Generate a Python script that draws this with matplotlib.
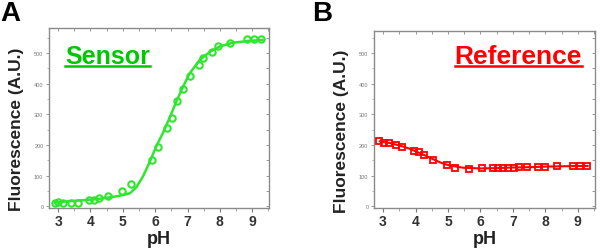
import matplotlib
matplotlib.use("Agg")
import matplotlib.pyplot as plt
from matplotlib.ticker import MultipleLocator

plt.rcParams['font.family'] = ['Liberation Sans', 'DejaVu Sans']

sensor_ph = [2.89, 3.01, 3.16, 3.40, 3.61, 3.96, 4.12, 4.26, 4.53, 4.97, 5.25,
             5.89, 6.08, 6.36, 6.51, 6.66, 6.86, 7.07, 7.34, 7.48, 7.75, 7.95,
             8.31, 8.83, 9.07, 9.26]
sensor_val = [12, 14, 12, 12, 12, 20, 22, 27, 34, 49, 72,
              153, 193, 257, 289, 343, 382, 425, 462, 484, 503, 522,
              534, 546, 546, 546]
sensor_fit_ph = [2.9, 3.3, 3.72, 4.2, 4.74, 5.0, 5.22, 5.42, 5.63, 5.83, 6.04,
                 6.24, 6.45, 6.65, 6.86, 7.06, 7.37, 7.69, 8.0, 8.4, 8.9, 9.32]
sensor_fit_val = [12, 17, 20, 24, 32, 37, 43, 63, 99, 145, 197,
                  240, 290, 341, 390, 433, 477, 504, 522, 534, 540, 543]

# Reference (panel B)
ref_ph = [2.89, 3.04, 3.17, 3.39, 3.58, 3.95, 4.10, 4.26, 4.54, 4.96, 5.23,
          5.66, 6.05, 6.38, 6.53, 6.70, 6.85, 7.02, 7.20, 7.44, 7.77, 8.00,
          8.35, 8.85, 9.07, 9.27]
ref_val = [214, 206, 206, 202, 194, 181, 178, 168, 153, 134, 125,
           123, 125, 124, 124, 125, 127, 127, 128, 129, 130, 130,
           132, 132, 132, 133]
ref_fit_ph = [2.9, 3.2, 3.5, 3.8, 4.0, 4.3, 4.5, 4.8, 5.0, 5.3, 5.5, 6.0,
              6.5, 7.0, 7.5, 8.0, 8.5, 9.0, 9.3]
ref_fit_val = [212, 207, 199, 189, 180, 166, 156, 142, 135, 129, 126, 124,
               125, 127, 128, 130, 131, 132, 132]

green_line = '#2ee62e'
green_text = '#00c800'
red = '#ff0000'

fig = plt.figure(figsize=(6.0, 2.51), dpi=100)
ax_a = fig.add_axes([0.0817, 0.1673, 0.3667, 0.7172])
ax_b = fig.add_axes([0.6233, 0.1673, 0.3678, 0.7052])


def style_axes(ax, ylim):
    ax.set_xlim(2.72, 9.52)
    ax.set_ylim(*ylim)
    ax.xaxis.set_major_locator(MultipleLocator(1))
    ax.xaxis.set_minor_locator(MultipleLocator(0.5))
    ax.yaxis.set_major_locator(MultipleLocator(100))
    ax.yaxis.set_minor_locator(MultipleLocator(50))
    for s in ax.spines.values():
        s.set_color('#8a8a8a')
        s.set_linewidth(1.0)
    ax.tick_params(axis='x', which='major', direction='out', length=3,
                   width=0.8, color='#777777', labelsize=10,
                   labelcolor='#333333', pad=1.5)
    ax.tick_params(axis='x', which='minor', direction='out', length=2,
                   width=0.6, color='#999999')
    ax.tick_params(axis='y', which='major', direction='out', length=2.5,
                   width=0.6, color='#888888', labelsize=4,
                   labelcolor='#777777', pad=1.5)
    ax.tick_params(axis='y', which='minor', direction='out', length=1.5,
                   width=0.5, color='#999999')
    for lab in ax.get_xticklabels():
        lab.set_fontweight('bold')
    # inward ticks on top and right
    top = ax.secondary_xaxis('top')
    top.xaxis.set_major_locator(MultipleLocator(1))
    top.xaxis.set_minor_locator(MultipleLocator(0.5))
    top.tick_params(which='both', direction='in', length=2, width=0.6,
                    color='#888888', labeltop=False)
    top.spines['top'].set_visible(False)
    right = ax.secondary_yaxis('right')
    right.yaxis.set_major_locator(MultipleLocator(100))
    right.yaxis.set_minor_locator(MultipleLocator(50))
    right.tick_params(which='both', direction='in', length=2, width=0.6,
                      color='#888888', labelright=False)
    right.spines['right'].set_visible(False)
    ax.set_xlabel('pH', fontsize=13, fontweight='bold', color='#222222',
                  labelpad=1)
    ax.set_ylabel('Fluorescence (A.U.)', fontsize=12.5, fontweight='bold',
                  color='#222222')
    ax.yaxis.set_label_coords(-0.115, 0.44)


style_axes(ax_a, (-5, 582))
style_axes(ax_b, (-5, 572))

ax_a.plot(sensor_fit_ph, sensor_fit_val, color=green_line, lw=1.8, zorder=2)
ax_a.plot(sensor_ph, sensor_val, linestyle='none', marker='o', ms=4.6,
          mfc='none', mec=green_line, mew=1.5, zorder=3)

ax_b.plot(ref_fit_ph, ref_fit_val, color=red, lw=1.5, zorder=2)
ax_b.plot(ref_ph, ref_val, linestyle='none', marker='s', ms=4.3,
          mfc='none', mec=red, mew=1.3, zorder=3)

fig.text(0.0, 0.995, 'A', fontsize=20, fontweight='bold', va='top', ha='left')
fig.text(0.52, 0.995, 'B', fontsize=20, fontweight='bold', va='top', ha='left')

t_sensor = fig.text(65 / 600, 1 - 64 / 251, 'Sensor', fontsize=18,
                    fontweight='bold', color=green_text, ha='left',
                    va='baseline')
t_ref = fig.text(582 / 600, 1 - 64 / 251, 'Reference', fontsize=19,
                 fontweight='bold', color=red, ha='right', va='baseline')

# underline the two titles
fig.canvas.draw()
for t in (t_sensor, t_ref):
    bb = t.get_window_extent().transformed(fig.transFigure.inverted())
    y = 1 - 66.5 / 251
    fig.add_artist(plt.Line2D([bb.x0, bb.x1], [y, y], color=t.get_color(),
                              lw=1.8, transform=fig.transFigure))

fig.savefig('out.png', dpi=100)
